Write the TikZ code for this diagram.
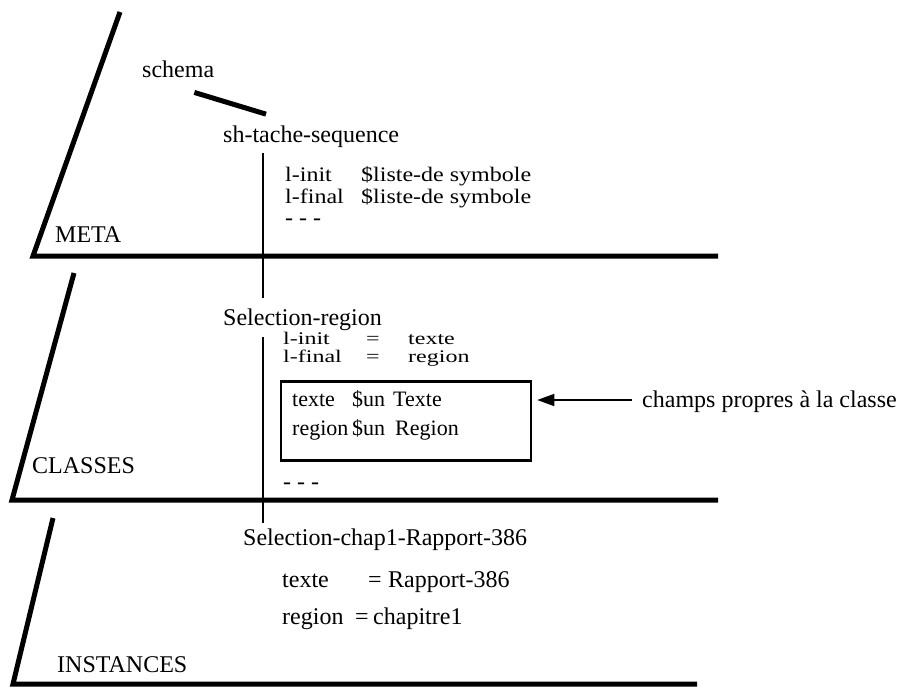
\documentclass[tikz,border=0pt]{standalone}
\usepackage{fontspec}
\setmainfont{Liberation Serif}
\usetikzlibrary{arrows.meta}
\newcommand\squish[2][.8]{\scalebox{1}[#1]{#2}}
\begin{document}
\begin{tikzpicture}[x=1pt,y=-1pt,
	every node/.style={inner sep=0pt,anchor=base west,font=\fontsize{24}{26}\selectfont},
	small/.style={font=\fontsize{22}{23}\selectfont},
	plane/.style={line width=5pt,line join=miter},
	vline/.style={line width=1.8pt},
	link/.style={line width=5pt},
	pointer/.style={line width=1.5pt,-{Triangle[length=17pt,width=12pt]}}]
\useasboundingbox (0,0) rectangle (910,686);
\draw[plane] (120,12) -- (33,256) -- (718,256);
\draw[plane] (74,273) -- (12,500) -- (718,500);
\draw[plane] (53,518) -- (13,684) -- (697,684);
\node (meta) at (55,242) {META};
\node (classes) at (32,473) {CLASSES};
\node (instances) at (57,672) {INSTANCES};
\node (schema) at (142,77) {schema};
\node (shtache) at (223,142) {sh-tache-sequence};
\node (linit) at (285,181) {\squish[.86]{l-init}};
\node at (361,181) {\squish[.86]{\$liste-de symbole}};
\node (lfinal) at (285,203) {\squish[.86]{l-final}};
\node at (361,203) {\squish[.86]{\$liste-de symbole}};
\node (etc1) at (285,225) {- - -};
\node (selreg) at (223,325) {Selection-region};
\node (rinit) at (283,344) {\squish[.74]{l-init}};
\node at (366,344) {\squish[.74]{=}};
\node at (408,344) {\squish[.74]{texte}};
\node (rfinal) at (283,362) {\squish[.74]{l-final}};
\node at (366,362) {\squish[.74]{=}};
\node at (408,362) {\squish[.74]{region}};
\node[draw,line width=2.5pt,anchor=center,minimum width=250pt,minimum height=79pt] (box) at (406,421) {};
\node[small] (ftexte) at (292,406) {texte};
\node[small] at (352,406) {\$un};
\node[small] at (393,406) {Texte};
\node[small] (fregion) at (292,435) {region};
\node[small] at (352,435) {\$un};
\node[small] at (395,435) {Region};
\node (etc2) at (283,489) {- - -};
\node (champs) at (642,407) {champs propres à la classe};
\node (selchap) at (243,545) {Selection-chap1-Rapport-386};
\node (itexte) at (282,587) {texte};
\node at (368,587) {=};
\node at (388,587) {Rapport-386};
\node (iregion) at (282,624) {region};
\node at (355,624) {=};
\node at (373,624) {chapitre1};
\coordinate (vtop) at (263,153);
\coordinate (tail) at ([shift={(-10pt,7pt)}]champs.base west);
\draw[link] ([shift={(-20pt,-15pt)}]schema.south east) -- ([shift={(43pt,11pt)}]shtache.north west);
\draw[vline] (vtop) -- ([yshift=10pt]vtop |- selreg.north);
\draw[vline] ([yshift=-7pt]vtop |- selreg.south) -- ([yshift=5pt]vtop |- selchap.north);
\draw[pointer] (tail) -- ([xshift=5pt]tail -| box.east);
\end{tikzpicture}
\end{document}
